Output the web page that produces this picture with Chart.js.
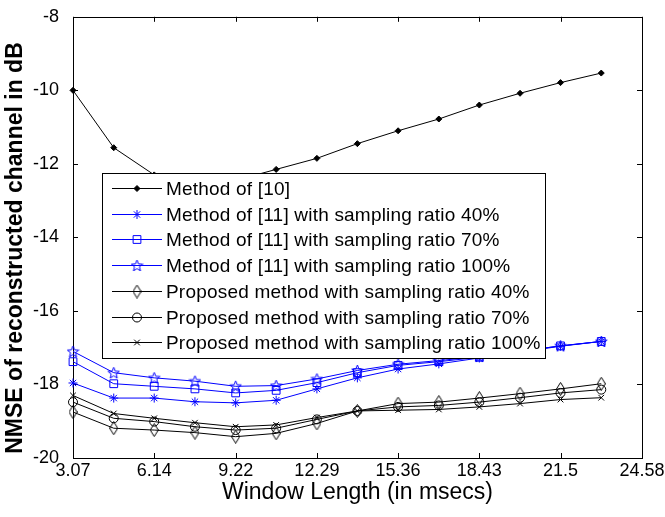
<!DOCTYPE html>
<html>
<head>
<meta charset="utf-8">
<script src="https://cdn.jsdelivr.net/npm/chart.js@4/dist/chart.umd.min.js"></script>
<style>
  html, body { margin: 0; padding: 0; background: #fff; }
  #wrap { width: 665px; height: 517px; }
</style>
</head>
<body>
<div id="wrap"><canvas id="c" width="665" height="517"></canvas></div>
<script>
// window lengths (msec) at which every method was evaluated
const windowLen = [3.07, 4.61, 6.14, 7.68, 9.22, 10.75, 12.29, 13.82, 15.36, 16.90, 18.43, 19.97, 21.5, 23.04];
const xTicks = [3.07, 6.14, 9.22, 12.29, 15.36, 18.43, 21.5, 24.58];
const xTickLabels = ['3.07', '6.14', '9.22', '12.29', '15.36', '18.43', '21.5', '24.58'];
const yTicks = [-20, -18, -16, -14, -12, -10, -8];

// NMSE in dB
const method10 = [-10.0, -11.56, -12.3, -12.55, -12.45, -12.15, -11.85, -11.45, -11.1, -10.78, -10.4, -10.08, -9.79, -9.53];
const m11r40 = [-17.96, -18.37, -18.37, -18.47, -18.50, -18.43, -18.12, -17.82, -17.58, -17.44, -17.28, -17.12, -16.96, -16.83];
const m11r70 = [-17.38, -17.98, -18.05, -18.12, -18.23, -18.16, -17.95, -17.68, -17.48, -17.38, -17.26, -17.10, -16.95, -16.83];
const m11r100 = [-17.10, -17.68, -17.82, -17.91, -18.05, -18.03, -17.85, -17.62, -17.45, -17.35, -17.24, -17.10, -16.95, -16.83];
const propR40 = [-18.75, -19.19, -19.24, -19.31, -19.42, -19.33, -19.06, -18.72, -18.52, -18.48, -18.37, -18.25, -18.12, -17.98];
const propR70 = [-18.48, -18.92, -19.01, -19.15, -19.24, -19.19, -18.95, -18.72, -18.61, -18.57, -18.48, -18.36, -18.23, -18.14];
const propR100 = [-18.30, -18.79, -18.92, -19.04, -19.15, -19.10, -18.90, -18.72, -18.70, -18.68, -18.61, -18.52, -18.41, -18.36];

const labels = [
  'Method of [10]',
  'Method of [11] with sampling ratio 40%',
  'Method of [11] with sampling ratio 70%',
  'Method of [11] with sampling ratio 100%',
  'Proposed method with sampling ratio 40%',
  'Proposed method with sampling ratio 70%',
  'Proposed method with sampling ratio 100%'
];

const BLUE = '#0000ff';
const FONT = "'Liberation Sans', Arial, sans-serif";

// matlab-ish markers that chart.js doesn't have
function makeMarker(w, h, color, draw) {
  const c = document.createElement('canvas');
  c.width = w; c.height = h;
  const g = c.getContext('2d');
  g.strokeStyle = color;
  g.lineWidth = 1;
  draw(g, w, h);
  return c;
}
const pentagram = makeMarker(13, 13, BLUE, (g, w, h) => {
  const cx = w / 2, cy = h / 2 + 0.5, R = 6, r = 2.6;
  g.beginPath();
  for (let i = 0; i < 10; i++) {
    const rad = i % 2 ? r : R;
    const a = -Math.PI / 2 + i * Math.PI / 5;
    const px = cx + rad * Math.cos(a), py = cy + rad * Math.sin(a);
    i ? g.lineTo(px, py) : g.moveTo(px, py);
  }
  g.closePath();
  g.stroke();
});
const diamond = makeMarker(9, 14, '#000', (g, w, h) => {
  g.beginPath();
  g.moveTo(w / 2, 0.5);
  g.lineTo(w - 0.5, h / 2);
  g.lineTo(w / 2, h - 0.5);
  g.lineTo(0.5, h / 2);
  g.closePath();
  g.stroke();
});

function series(ys) {
  return ys.map((y, i) => ({ x: windowLen[i], y }));
}

function ds(label, ys, color, style, radius, fill) {
  return {
    label,
    data: series(ys),
    borderColor: color,
    borderWidth: 1,
    pointStyle: style,
    pointRadius: radius,
    pointBorderColor: color,
    pointBackgroundColor: fill ? color : 'rgba(0,0,0,0)',
    pointBorderWidth: 1,
    tension: 0,
    clip: false
  };
}

const datasets = [
  ds(labels[0], method10, '#000', 'rectRot', 3, true),
  ds(labels[1], m11r40, BLUE, 'star', 4.5),
  ds(labels[2], m11r70, BLUE, 'rect', 5.5),
  ds(labels[3], m11r100, BLUE, pentagram, 6),
  ds(labels[4], propR40, '#000', diamond, 6),
  ds(labels[5], propR70, '#000', 'circle', 4.5),
  ds(labels[6], propR100, '#000', 'crossRot', 4)
];

// box, inward ticks, legend and axis titles (matlab style)
const matlabLook = {
  id: 'matlabLook',
  beforeDatasetsDraw(chart) {
    const { ctx, chartArea: a, scales: { x, y } } = chart;
    ctx.save();
    ctx.strokeStyle = '#000';
    ctx.lineWidth = 1;
    ctx.strokeRect(Math.round(a.left) + 0.5, Math.round(a.top) + 0.5, Math.round(a.right - a.left), Math.round(a.bottom - a.top));
    const tl = 5;
    ctx.beginPath();
    xTicks.forEach(v => {
      const px = Math.round(x.getPixelForValue(v)) + 0.5;
      ctx.moveTo(px, a.bottom); ctx.lineTo(px, a.bottom - tl);
      ctx.moveTo(px, a.top); ctx.lineTo(px, a.top + tl);
    });
    yTicks.forEach(v => {
      const py = Math.round(y.getPixelForValue(v)) + 0.5;
      ctx.moveTo(a.left, py); ctx.lineTo(a.left + tl, py);
      ctx.moveTo(a.right, py); ctx.lineTo(a.right - tl, py);
    });
    ctx.stroke();
    ctx.restore();
  },
  afterDatasetsDraw(chart) {
    const { ctx } = chart;
    const box = { left: 102, top: 173, right: 545, bottom: 358 };
    ctx.save();
    ctx.fillStyle = '#fff';
    ctx.fillRect(box.left, box.top, box.right - box.left, box.bottom - box.top);
    ctx.strokeStyle = '#000';
    ctx.lineWidth = 1;
    ctx.strokeRect(box.left + 0.5, box.top + 0.5, box.right - box.left, box.bottom - box.top);
    ctx.font = '19px ' + FONT;
    ctx.letterSpacing = '0.2px';
    ctx.textBaseline = 'middle';
    ctx.textAlign = 'left';
    chart.data.datasets.forEach((d, i) => {
      const ry = Math.round(188 + i * 25.7) + 0.5;
      ctx.strokeStyle = d.borderColor;
      ctx.beginPath();
      ctx.moveTo(112, ry); ctx.lineTo(162, ry);
      ctx.stroke();
      ctx.strokeStyle = d.pointBorderColor;
      ctx.fillStyle = d.pointBackgroundColor;
      Chart.helpers.drawPoint(ctx, { pointStyle: d.pointStyle, radius: d.pointRadius, borderWidth: 1, rotation: 0 }, 137, ry);
      ctx.fillStyle = '#000';
      ctx.fillText(d.label, 166, ry + 1);
    });
    ctx.restore();
  },
  afterDraw(chart) {
    const { ctx, chartArea: a } = chart;
    ctx.save();
    ctx.fillStyle = '#000';
    ctx.textAlign = 'center';
    ctx.textBaseline = 'middle';
    ctx.font = '23px ' + FONT;
    ctx.fillText('Window Length (in msecs)', (a.left + a.right) / 2, 493);
    ctx.translate(16, 248);
    ctx.rotate(-Math.PI / 2);
    ctx.font = 'bold 23px ' + FONT;
    ctx.fillText('NMSE of reconstructed channel in dB', 0, 0);
    ctx.restore();
  }
};

new Chart(document.getElementById('c'), {
  type: 'line',
  data: { datasets },
  options: {
    responsive: false,
    animation: false,
    devicePixelRatio: 1,
    layout: { padding: { top: 13, right: 23, left: 0, bottom: 0 } },
    plugins: { legend: { display: false }, tooltip: { enabled: false } },
    scales: {
      x: {
        type: 'linear',
        min: 3.07,
        max: 24.58,
        grid: { display: false },
        border: { display: false },
        afterBuildTicks: s => { s.ticks = xTicks.map(v => ({ value: v })); },
        afterFit: s => { s.height = 59; s.paddingLeft = 0; s.paddingRight = 0; },
        ticks: {
          autoSkip: false,
          maxRotation: 0,
          padding: -6,
          color: '#000',
          font: { family: FONT, size: 18 },
          callback: (v, i) => xTickLabels[i]
        }
      },
      y: {
        min: -20,
        max: -8,
        grid: { display: false },
        border: { display: false },
        afterBuildTicks: s => { s.ticks = yTicks.map(v => ({ value: v })); },
        afterFit: s => { s.width = 73; },
        ticks: {
          padding: 6,
          color: '#000',
          font: { family: FONT, size: 18 },
          callback: v => String(v)
        }
      }
    }
  },
  plugins: [matlabLook]
});
</script>
</body>
</html>
